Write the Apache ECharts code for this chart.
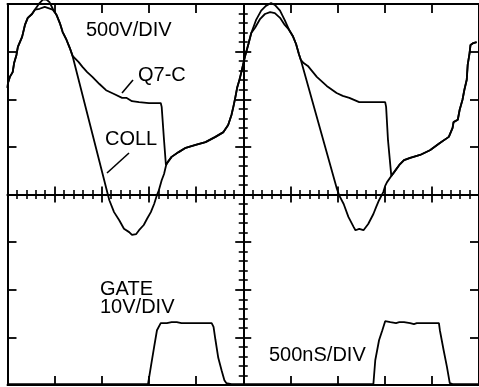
<!DOCTYPE html>
<html>
<head>
<meta charset="utf-8">
<script src="https://cdn.jsdelivr.net/npm/echarts@6/dist/echarts.min.js"></script>
<style>
  html, body { margin: 0; padding: 0; background: #fff; }
  #chart { width: 479px; height: 387px; }
</style>
</head>
<body>
<div id="chart"></div>
<script>
// scope traces, x in time divisions (500nS/DIV), y in vertical divisions
const riseIn = [[-5.00, 2.24], [-4.99, 2.34], [-4.95, 2.47], [-4.89, 2.57], [-4.86, 2.76], [-4.81, 2.93], [-4.78, 3.10], [-4.69, 3.31], [-4.63, 3.56], [-4.57, 3.71], [-4.48, 3.79], [-4.42, 3.88]];
const peak1Coll = [[-4.32, 4.02], [-4.25, 4.09], [-4.17, 4.09], [-4.11, 4.04], [-4.04, 3.90]];
const peak1Q7 = [[-4.32, 3.90], [-4.21, 3.94], [-4.15, 3.92], [-4.04, 3.88]];
const fall1 = [[-4.00, 3.83], [-3.96, 3.77], [-3.89, 3.60], [-3.83, 3.41], [-3.75, 3.25], [-3.68, 3.08], [-3.62, 2.91], [-3.58, 2.87]];
const q7Sag1 = [[-3.49, 2.78], [-3.41, 2.68], [-3.31, 2.57], [-3.20, 2.47], [-3.05, 2.32], [-2.91, 2.19], [-2.74, 2.11], [-2.57, 2.03], [-2.48, 2.03], [-2.36, 1.96], [-2.21, 1.94], [-2.00, 1.92], [-1.75, 1.92], [-1.73, 1.84], [-1.68, 1.14], [-1.64, 0.62]];
const collDip1 = [[-2.88, 0.03], [-2.84, -0.12], [-2.74, -0.37], [-2.63, -0.54], [-2.53, -0.72], [-2.42, -0.79], [-2.36, -0.85], [-2.27, -0.83], [-2.21, -0.75], [-2.11, -0.64], [-2.04, -0.51], [-1.96, -0.37], [-1.89, -0.20], [-1.83, -0.01], [-1.79, 0.09], [-1.73, 0.30], [-1.68, 0.43], [-1.64, 0.60]];
const rise2 = [[-1.62, 0.66], [-1.52, 0.79], [-1.37, 0.89], [-1.22, 0.98], [-1.01, 1.04], [-0.80, 1.10], [-0.59, 1.21], [-0.42, 1.31], [-0.32, 1.46], [-0.25, 1.67], [-0.21, 1.84], [-0.17, 2.03], [-0.13, 2.24], [-0.08, 2.41], [-0.04, 2.57], [0.00, 2.74], [0.04, 2.91], [0.11, 3.16], [0.17, 3.39]];
const peak2Coll = [[0.27, 3.66], [0.38, 3.86], [0.48, 3.96], [0.59, 4.02], [0.67, 3.98], [0.78, 3.86], [0.88, 3.66]];
const peak2Q7 = [[0.25, 3.50], [0.36, 3.69], [0.46, 3.79], [0.57, 3.83], [0.67, 3.81], [0.78, 3.71], [0.88, 3.56]];
const fall2 = [[0.97, 3.46], [1.05, 3.33], [1.12, 3.16], [1.18, 2.95], [1.22, 2.83]];
const q7Sag2 = [[1.28, 2.76], [1.37, 2.70], [1.56, 2.47], [1.77, 2.28], [1.98, 2.13], [2.11, 2.07], [2.25, 2.03], [2.46, 1.94], [2.74, 1.94], [3.01, 1.94], [3.03, 1.84], [3.07, 1.14], [3.14, 0.39]];
const collDip2 = [[1.98, 0.14], [2.04, -0.03], [2.13, -0.20], [2.23, -0.47], [2.34, -0.68], [2.38, -0.75], [2.46, -0.72], [2.55, -0.75], [2.65, -0.62], [2.76, -0.41], [2.82, -0.26], [2.88, -0.12], [2.97, 0.05], [3.01, 0.18], [3.05, 0.26], [3.14, 0.39]];
const rise3 = [[3.20, 0.47], [3.31, 0.62], [3.41, 0.72], [3.54, 0.77], [3.75, 0.83], [3.96, 0.93], [4.17, 1.08], [4.36, 1.21], [4.44, 1.40], [4.46, 1.52], [4.55, 1.57], [4.59, 1.78], [4.65, 1.99], [4.69, 2.20], [4.74, 2.41], [4.76, 2.72], [4.80, 2.97], [4.82, 3.14], [4.88, 3.18], [4.95, 3.20]];

const gatePulse1 = [[-5.00, -3.98], [-2.02, -3.98], [-1.96, -3.62], [-1.89, -3.20], [-1.83, -2.85], [-1.75, -2.70], [-1.73, -2.66], [-1.62, -2.70], [-1.52, -2.68], [-1.41, -2.68], [-1.31, -2.70], [-1.01, -2.70], [-0.67, -2.70], [-0.63, -2.78], [-0.59, -3.05], [-0.53, -3.43], [-0.46, -3.69], [-0.40, -3.90], [-0.36, -3.96], [-0.25, -3.98]];
const gatePulse2 = [[2.76, -3.98], [2.80, -3.48], [2.88, -3.06], [2.95, -2.85], [3.01, -2.66], [3.12, -2.68], [3.24, -2.70], [3.31, -2.68], [3.41, -2.68], [3.45, -2.66], [3.54, -2.70], [3.62, -2.72], [3.68, -2.70], [4.15, -2.70], [4.17, -2.85], [4.25, -3.27], [4.32, -3.62], [4.38, -3.96], [4.44, -3.98], [5.00, -3.98]];

const q7Trace = [].concat(riseIn, peak1Q7, fall1, q7Sag1, rise2, peak2Q7, fall2, q7Sag2, rise3);
const collTrace = [].concat(riseIn, peak1Coll, fall1, collDip1, rise2, peak2Coll, fall2, collDip2, rise3);
const gateTrace = [].concat(gatePulse1, gatePulse2);

const INK = "#000";
const FONT = '20px "Liberation Sans", Arial, sans-serif';

function frameAxis(position, min, max) {
  return {
    type: "value",
    position: position,
    min: min,
    max: max,
    interval: 1,
    axisLine: { show: true, onZero: false, lineStyle: { color: INK, width: 2 } },
    axisTick: { show: true, inside: true, length: 9, lineStyle: { color: INK, width: 1.8 } },
    axisLabel: { show: false },
    splitLine: { show: false }
  };
}

// centre crosshair, ticks drawn on both sides by two overlapping axes
function crossAxis(position, min, max, inside) {
  return {
    type: "value",
    position: position,
    min: min,
    max: max,
    interval: 1,
    axisLine: { show: true, onZero: true, onZeroAxisIndex: 0, lineStyle: { color: INK, width: 1.8 } },
    axisTick: { show: true, inside: inside, length: 8, lineStyle: { color: INK, width: 1.8 } },
    minorTick: { show: true, splitNumber: 5, length: 4.5, lineStyle: { color: INK, width: 1.6 } },
    axisLabel: { show: false },
    splitLine: { show: false },
    minorSplitLine: { show: false }
  };
}

function trace(data) {
  return {
    type: "line",
    data: data,
    xAxisIndex: 0,
    yAxisIndex: 0,
    showSymbol: false,
    clip: false,
    silent: true,
    lineStyle: { color: INK, width: 1.8 }
  };
}

const chart = echarts.init(document.getElementById("chart"));
chart.setOption({
  animation: false,
  backgroundColor: "#fff",
  grid: { left: 7.5, top: 4, width: 475, height: 381 },
  xAxis: [
    frameAxis("bottom", -5, 5),
    frameAxis("top", -5, 5),
    crossAxis("bottom", -5, 5, false),
    crossAxis("bottom", -5, 5, true)
  ],
  yAxis: [
    frameAxis("left", -4, 4),
    frameAxis("right", -4, 4),
    crossAxis("left", -4, 4, false),
    crossAxis("left", -4, 4, true)
  ],
  series: [trace(q7Trace), trace(collTrace), trace(gateTrace)],
  graphic: [
    { type: "text", x: 86, y: 30, style: { text: "500V/DIV", font: FONT, fill: INK, verticalAlign: "middle" } },
    { type: "text", x: 138, y: 75, style: { text: "Q7-C", font: FONT, fill: INK, verticalAlign: "middle" } },
    { type: "line", shape: { x1: 133, y1: 80, x2: 122, y2: 93 }, style: { stroke: INK, lineWidth: 1.6 } },
    { type: "text", x: 105, y: 139.5, style: { text: "COLL", font: FONT, fill: INK, verticalAlign: "middle" } },
    { type: "line", shape: { x1: 129, y1: 153, x2: 107, y2: 173 }, style: { stroke: INK, lineWidth: 1.6 } },
    { type: "text", x: 100, y: 289, style: { text: "GATE", font: FONT, fill: INK, verticalAlign: "middle" } },
    { type: "text", x: 100, y: 307, style: { text: "10V/DIV", font: FONT, fill: INK, verticalAlign: "middle" } },
    { type: "text", x: 269, y: 355, style: { text: "500nS/DIV", font: FONT, fill: INK, verticalAlign: "middle" } }
  ]
});
</script>
</body>
</html>
